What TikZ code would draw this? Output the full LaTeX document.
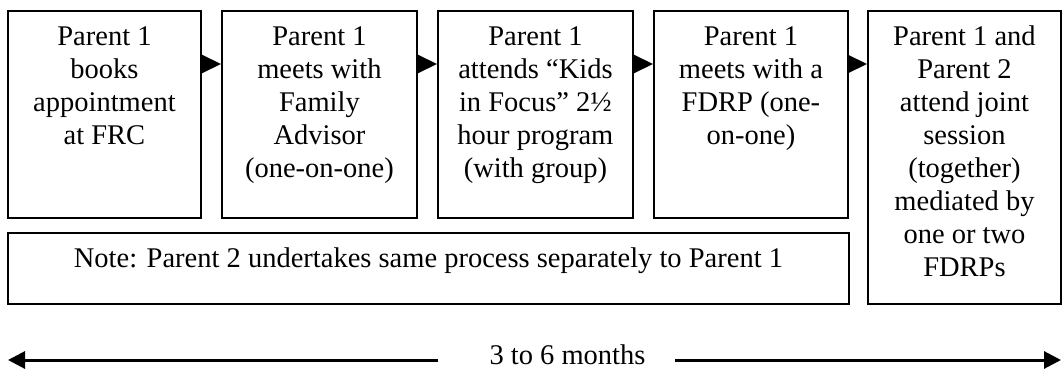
\documentclass[tikz,border=0pt]{standalone}
\usepackage{fontspec}
\setmainfont{Liberation Serif}
\usetikzlibrary{arrows.meta}
% #1 box height, #2 box width, #3 lines of text (top aligned, centred)
\newcommand\flowtext[3]{\parbox[t][#1][t]{#2}{\centering\fontsize{28.5}{33}\selectfont\rule{0pt}{35pt}#3}}
\begin{document}
\begin{tikzpicture}[x=1pt,y=1pt,
  stepbox/.style={draw, line width=1.9pt, inner sep=0pt, anchor=north west},
  flow/.style={line width=2pt, -{Triangle[length=19pt,width=18pt]}},
  span/.style={line width=3pt, -{Triangle[length=17pt,width=17pt]}}]
\useasboundingbox (0,0) rectangle (1062,-369);

% process steps
\node[stepbox] (b1) at (7,-10)   {\flowtext{207pt}{193pt}{Parent 1\\books\\appointment\\at FRC}};
\node[stepbox] (b2) at (221,-10) {\flowtext{207pt}{195pt}{Parent 1\\meets with\\Family\\Advisor\\(one-on-one)}};
\node[stepbox] (b3) at (437,-10) {\flowtext{207pt}{195pt}{Parent 1\\attends “Kids\\in Focus” 2½\\hour program\\(with group)}};
\node[stepbox] (b4) at (653,-10) {\flowtext{207pt}{194pt}{Parent 1\\meets with a\\FDRP (one-\\on-one)}};
\node[stepbox] (b5) at (867,-10) {\flowtext{293pt}{193pt}{Parent 1 and\\Parent 2\\attend joint\\session\\(together)\\mediated by\\one or two\\FDRPs}};

% note under the individual steps
\node[stepbox] (note) at (7,-232) {\flowtext{71pt}{841pt}{Note: Parent 2 undertakes same process separately to Parent 1}};

% step connectors
\draw[flow] ([yshift=-54pt]b1.north east) -- ([yshift=-54pt]b2.north west);
\draw[flow] ([yshift=-54pt]b2.north east) -- ([yshift=-54pt]b3.north west);
\draw[flow] ([yshift=-54pt]b3.north east) -- ([yshift=-54pt]b4.north west);
\draw[flow] ([yshift=-54pt]b4.north east) -- ([yshift=-54pt]b5.north west);

% overall duration
\node[anchor=base, inner sep=0pt, font=\fontsize{28.5}{33}\selectfont] (months) at (567.5,-364) {3 to 6 months};
\coordinate (spanL) at (8,-360);
\coordinate (spanR) at (1061,-360);
\coordinate (la) at (438,-360);
\coordinate (ra) at (675,-360);
\draw[span] (la) -- (spanL);
\draw[span] (ra) -- (spanR);
\end{tikzpicture}
\end{document}
